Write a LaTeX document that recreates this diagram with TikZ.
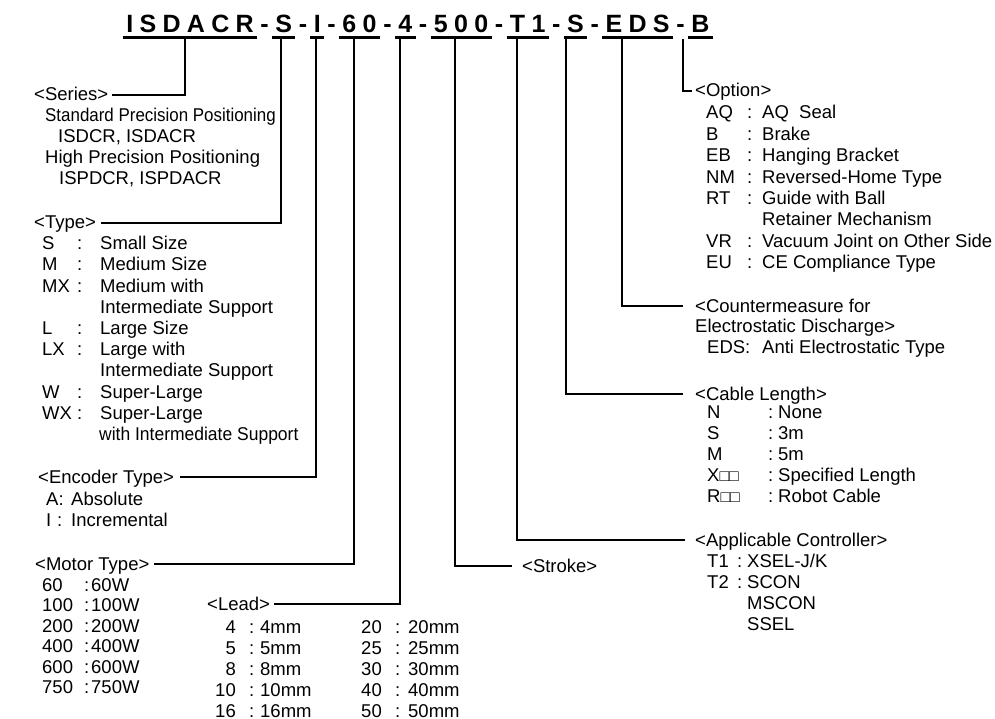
\documentclass[tikz,border=0pt]{standalone}
\usepackage{fontspec}
\setmainfont{Liberation Sans}
\usetikzlibrary{calc}
\newcommand\fs{\fontsize{18.5}{21.5}\selectfont}
\newcommand\tfs{\fontsize{25}{30}\selectfont\bfseries}
\newcommand\ksp{\kern6.3pt}
\newcommand\hsp{\kern3.15pt}
\newcommand\sq{{\fontsize{16}{16}\selectfont □□}}
\tikzset{
  txt/.style={font=\fs, inner sep=0pt, anchor=base west},
  txtr/.style={font=\fs, inner sep=0pt, anchor=base east},
  hdr/.style={font=\fs, inner sep=0pt, anchor=west, text height=13pt, text depth=1pt},
  tseg/.style={font=\tfs, inner sep=0pt, anchor=base west},
  ul/.style={line width=2.6pt},
  conn/.style={line width=1.2pt},
}
\begin{document}
\begin{tikzpicture}[x=1pt,y=-1pt]
\useasboundingbox (0,0) rectangle (995,719);
% ---------- title ----------
\node[tseg] (s1) at (123,33) {\hsp I\ksp S\ksp D\ksp A\ksp C\ksp R\hsp};
\node[tseg] (h1) at (s1.base east) {\hsp-\hsp};
\node[tseg] (s2) at (h1.base east) {\hsp S\hsp};
\node[tseg] (h2) at (s2.base east) {\hsp-\hsp};
\node[tseg] (s3) at (h2.base east) {\hsp I\hsp};
\node[tseg] (h3) at (s3.base east) {\hsp-\hsp};
\node[tseg] (s4) at (h3.base east) {\hsp 6\ksp 0\hsp};
\node[tseg] (h4) at (s4.base east) {\hsp-\hsp};
\node[tseg] (s5) at (h4.base east) {\hsp 4\hsp};
\node[tseg] (h5) at (s5.base east) {\hsp-\hsp};
\node[tseg] (s6) at (h5.base east) {\hsp 5\ksp 0\ksp 0\hsp};
\node[tseg] (h6) at (s6.base east) {\hsp-\hsp};
\node[tseg] (s7) at (h6.base east) {\hsp T\ksp 1\hsp};
\node[tseg] (h7) at (s7.base east) {\hsp-\hsp};
\node[tseg] (s8) at (h7.base east) {\hsp S\hsp};
\node[tseg] (h8) at (s8.base east) {\hsp-\hsp};
\node[tseg] (s9) at (h8.base east) {\hsp E\ksp D\ksp S\hsp};
\node[tseg] (h9) at (s9.base east) {\hsp-\hsp};
\node[tseg] (s10) at (h9.base east) {\hsp B\hsp};
\foreach \s in {s1,s2,s3,s4,s5,s6,s7,s8,s9,s10}
  \draw[ul] ([yshift=-4.8pt]\s.base west) -- ([yshift=-4.8pt]\s.base east);
% connector tops
\coordinate (cSer) at (185,39);
\coordinate (cTyp) at (281,39);
\coordinate (cEnc) at (316,39);
\coordinate (cMot) at (354,39);
\coordinate (cLea) at (400,39);
\coordinate (cStr) at (455,39);
\coordinate (cApp) at (517,39);
\coordinate (cCab) at (566,39);
\coordinate (cEds) at (622,39);
\coordinate (cOpt) at (683,39);
% ---------- Series ----------
\node[hdr] (serH) at (34,95) {<Series>};
\node[txt] (ser1) at (45,122) {\scalebox{0.915}[1]{Standard Precision Positioning}};
\node[txt] (ser2) at (58,143) {ISDCR, ISDACR};
\node[txt] (ser3) at (45,164) {High Precision Positioning};
\node[txt] (ser4) at (59,185) {ISPDCR, ISPDACR};
% ---------- Type ----------
\node[hdr] (typH) at (34,223) {<Type>};
\foreach \k/\t [count=\i from 0] in {S/Small Size, M/Medium Size, MX/Medium with, /Intermediate Support, L/Large Size, LX/Large with, /Intermediate Support, W/Super-Large, WX/Super-Large}{
  \node[txt] (typK\i) at (42,249.6+21.2*\i) {\k};
  \node[txt] (typT\i) at (100,249.6+21.2*\i) {\t};
}
\foreach \i in {0,1,2,4,5,7,8}
  \node[txt] (typC\i) at (77,249.6+21.2*\i) {:};
\node[txt] (typT9) at (99,440.4) {\scalebox{0.945}[1]{with Intermediate Support}};
% ---------- Encoder ----------
\node[hdr] (encH) at (38,477) {<Encoder Type>};
\node[txt] (encK1) at (46,505) {A:};
\node[txt] (encT1) at (71,505) {Absolute};
\node[txt] (encK2) at (46,526) {I};
\node[txt] (encC2) at (57,526) {:};
\node[txt] (encT2) at (71,526) {Incremental};
% ---------- Motor ----------
\node[hdr] (motH) at (35,564) {<Motor Type>};
\foreach \k [count=\i from 0] in {60,100,200,400,600,750}{
  \node[txt] (motK\i) at (42,591+20.5*\i) {\k};
  \node[txt] (motC\i) at (84,591+20.5*\i) {:};
  \node[txt] (motT\i) at (91,591+20.5*\i) {\k W};
}
% ---------- Lead ----------
\node[hdr] (leaH) at (207,604) {<Lead>};
\foreach \a/\b [count=\i from 0] in {4/20,5/25,8/30,10/40,16/50}{
  \node[txtr] (leaKa\i) at (236,633+21*\i) {\a};
  \node[txt] (leaCa\i) at (249,633+21*\i) {:};
  \node[txt] (leaTa\i) at (260,633+21*\i) {\a mm};
  \node[txtr] (leaKb\i) at (382,633+21*\i) {\b};
  \node[txt] (leaCb\i) at (395,633+21*\i) {:};
  \node[txt] (leaTb\i) at (408,633+21*\i) {\b mm};
}
% ---------- Stroke ----------
\node[hdr] (strH) at (522,566) {<Stroke>};
% ---------- Applicable controller ----------
\node[hdr] (appH) at (695,540) {<Applicable Controller>};
\node[txt] (appK1) at (707,567) {T1};
\node[txt] (appC1) at (737,567) {:};
\node[txt] (appT1) at (747,567) {XSEL-J/K};
\node[txt] (appK2) at (707,588) {T2};
\node[txt] (appC2) at (737,588) {:};
\node[txt] (appT2) at (747,588) {SCON};
\node[txt] (appT3) at (747,609) {MSCON};
\node[txt] (appT4) at (747,630) {SSEL};
% ---------- Cable ----------
\node[hdr] (cabH) at (695,394) {<Cable Length>};
\foreach \k/\t [count=\i from 0] in {N/None, S/3m, M/5m, X\sq/Specified Length, R\sq/Robot Cable}{
  \node[txt] (cabK\i) at (707,418+21*\i) {\k};
  \node[txt] (cabC\i) at (768,418+21*\i) {:};
  \node[txt] (cabT\i) at (778,418+21*\i) {\t};
}
% ---------- Countermeasure ----------
\node[hdr] (edsH) at (695,306) {<Countermeasure for};
\node[txt] (edsH2) at (695,332) {Electrostatic Discharge>};
\node[txt] (edsK) at (707,353) {EDS:};
\node[txt] (edsT) at (762,353) {Anti Electrostatic Type};
% ---------- Option ----------
\node[hdr] (optH) at (695,91) {<Option>};
\foreach \k/\t [count=\i from 0] in {AQ/AQ\ \ Seal, B/Brake, EB/Hanging Bracket, NM/Reversed-Home Type, RT/Guide with Ball, /Retainer Mechanism, VR/Vacuum Joint on Other Side, EU/CE Compliance Type}{
  \node[txt] (optK\i) at (706,119+21.4*\i) {\k};
  \node[txt] (optT\i) at (762,119+21.4*\i) {\t};
}
\foreach \i in {0,1,2,3,4,6,7}
  \node[txt] (optC\i) at (747,119+21.4*\i) {:};
% ---------- connectors ----------
\draw[conn] (cSer) |- ([xshift=4pt]serH.east);
\draw[conn] (cTyp) |- ([xshift=5pt]typH.east);
\draw[conn] (cEnc) |- ([xshift=6pt]encH.east);
\draw[conn] (cMot) |- ([xshift=4pt]motH.east);
\draw[conn] (cLea) |- ([xshift=4pt]leaH.east);
\draw[conn] (cStr) |- ([xshift=-10pt]strH.west);
\draw[conn] (cApp) |- ([xshift=-10pt]appH.west);
\draw[conn] (cCab) |- ([xshift=-12pt]cabH.west);
\draw[conn] (cEds) |- ([xshift=-12pt]edsH.west);
\draw[conn] (cOpt) |- ([xshift=-3pt]optH.west);
\end{tikzpicture}
\end{document}
